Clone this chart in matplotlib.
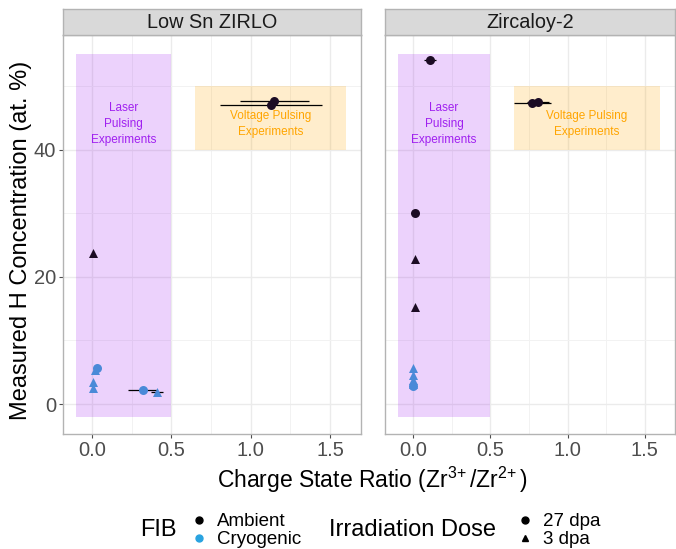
import matplotlib
matplotlib.use("Agg")
from matplotlib import pyplot as plt
from matplotlib.patches import Rectangle
from matplotlib.lines import Line2D

plt.rcParams['font.family'] = ['Liberation Sans', 'DejaVu Sans']
plt.rcParams['mathtext.fontset'] = 'custom'
plt.rcParams['mathtext.rm'] = 'Liberation Sans'
plt.rcParams['mathtext.it'] = 'Liberation Sans:italic'

# data
panels = ["Low Sn ZIRLO", "Zircaloy-2"]

zirlo_x = [1.13, 1.15, 0.01, 0.03, 0.02, 0.01, 0.01, 0.32, 0.41]
zirlo_y = [47.0, 47.6, 23.7, 5.7, 5.3, 3.5, 2.5, 2.2, 1.9]
zirlo_xerr = [0.32, 0.22, 0.0, 0.0, 0.0, 0.0, 0.0, 0.09, 0.04]
zirlo_fib = ["Ambient", "Ambient", "Ambient", "Cryogenic", "Cryogenic",
             "Cryogenic", "Cryogenic", "Cryogenic", "Cryogenic"]
zirlo_dose = ["27 dpa", "27 dpa", "3 dpa", "27 dpa", "3 dpa",
              "3 dpa", "3 dpa", "27 dpa", "3 dpa"]

zry_x = [0.11, 0.77, 0.81, 0.01, 0.01, 0.01, 0.0, 0.0, 0.0, 0.0, 0.0]
zry_y = [54.0, 47.3, 47.5, 30.0, 22.8, 15.3, 5.6, 4.6, 3.8, 3.1, 2.8]
zry_xerr = [0.04, 0.12, 0.07, 0.0, 0.0, 0.0, 0.0, 0.0, 0.0, 0.0, 0.0]
zry_fib = ["Ambient"] * 6 + ["Cryogenic"] * 5
zry_dose = ["27 dpa", "27 dpa", "27 dpa", "27 dpa", "3 dpa", "3 dpa",
            "3 dpa", "3 dpa", "3 dpa", "3 dpa", "27 dpa"]

laser_box = (-0.1, 0.5, -2, 55)
voltage_box = (0.65, 1.6, 40, 50)

fib_colors = {"Ambient": "#1c0c24", "Cryogenic": "#4a8ad8"}
legend_colors = {"Ambient": "black", "Cryogenic": "#29a3e0"}
dose_markers = {"27 dpa": "o", "3 dpa": "^"}

W, H = 676, 549
fig = plt.figure(figsize=(W / 100, H / 100), dpi=100)

panel_px = [(63, 361), (385, 675)]
top_px, bot_px, strip_top = 35, 434, 9

data = [(zirlo_x, zirlo_y, zirlo_xerr, zirlo_fib, zirlo_dose),
        (zry_x, zry_y, zry_xerr, zry_fib, zry_dose)]

for i, (name, (l, r)) in enumerate(zip(panels, panel_px)):
    ax = fig.add_axes([l / W, 1 - bot_px / H, (r - l) / W, (bot_px - top_px) / H])
    xs, ys, xerr, fib, dose = data[i]

    ax.add_patch(Rectangle((laser_box[0], laser_box[2]), laser_box[1] - laser_box[0],
                           laser_box[3] - laser_box[2], color="#a020f0", alpha=0.2,
                           lw=0, zorder=1))
    ax.add_patch(Rectangle((voltage_box[0], voltage_box[2]), voltage_box[1] - voltage_box[0],
                           voltage_box[3] - voltage_box[2], color="#ffa500", alpha=0.2,
                           lw=0, zorder=1))
    ax.text(0.2, 44, "Laser\nPulsing\nExperiments", color="#a020f0", fontsize=8.5,
            ha="center", va="center", linespacing=1.45, zorder=2)
    ax.text(1.125, 44, "Voltage Pulsing\nExperiments", color="#ffa500", fontsize=8.5,
            ha="center", va="center", linespacing=1.45, zorder=2)

    for x, y, e in zip(xs, ys, xerr):
        if e > 0:
            ax.errorbar(x, y, xerr=e, fmt="none", ecolor="black", elinewidth=0.9,
                        capsize=0, zorder=3)
    for x, y, f, d in zip(xs, ys, fib, dose):
        ax.scatter(x, y, s=42, color=fib_colors[f], marker=dose_markers[d],
                   linewidths=0, zorder=4)

    ax.set_xlim(-0.182, 1.695)
    ax.set_ylim(-4.7, 58)
    ax.set_xticks([0, 0.5, 1.0, 1.5])
    ax.set_xticklabels(["0.0", "0.5", "1.0", "1.5"])
    ax.set_xticks([0.25, 0.75, 1.25], minor=True)
    ax.set_yticks([0, 20, 40])
    ax.set_yticks([10, 30, 50], minor=True)
    ax.grid(True, which="major", color="#ebebeb", lw=1.0, zorder=0)
    ax.grid(True, which="minor", color="#f2f2f2", lw=0.7, zorder=0)
    ax.set_axisbelow(True)
    ax.tick_params(which="major", length=3, color="#4d4d4d", labelsize=14.5,
                   labelcolor="#4d4d4d", pad=2)
    ax.tick_params(which="minor", length=0)
    if i == 1:
        ax.tick_params(axis="y", which="both", left=False, labelleft=False)
    for sp in ax.spines.values():
        sp.set_color("#b3b3b3")
        sp.set_linewidth(1.0)

    sax = fig.add_axes([l / W, 1 - top_px / H, (r - l) / W, (top_px - strip_top) / H])
    sax.set_facecolor("#d9d9d9")
    sax.set_xticks([])
    sax.set_yticks([])
    for sp in sax.spines.values():
        sp.set_color("#b3b3b3")
        sp.set_linewidth(1.0)
    sax.text(0.5, 0.5, name, ha="center", va="center", fontsize=14.3, color="#1a1a1a",
             transform=sax.transAxes)

fig.text(21 / W, 1 - 240 / H, "Measured H Concentration (at. %)", rotation=90,
         ha="center", va="center", fontsize=17)
fig.text(372 / W, 1 - 480 / H,
         r"Charge State Ratio (Zr$^{\mathregular{3\!+}}$/Zr$^{\mathregular{2\!+}}$)",
         ha="center", va="center", fontsize=16.5)

# legends, laid out by hand like the ggplot guide boxes
fig.text(140 / W, 1 - 530 / H, "FIB", fontsize=17, ha="left", va="center")
for k, ypx in zip(["Ambient", "Cryogenic"], [520, 538]):
    fig.add_artist(Line2D([199 / W], [1 - ypx / H], ls="none", marker="o", ms=5,
                          color=legend_colors[k], transform=fig.transFigure))
    fig.text(217 / W, 1 - (ypx + 1) / H, k, fontsize=13.5, ha="left", va="center")

fig.text(329 / W, 1 - 530 / H, "Irradiation Dose", fontsize=17, ha="left", va="center")
for k, ypx in zip(["27 dpa", "3 dpa"], [520, 538]):
    fig.add_artist(Line2D([525 / W], [1 - ypx / H], ls="none", marker=dose_markers[k],
                          ms=5, color="black", transform=fig.transFigure))
    fig.text(543 / W, 1 - (ypx + 1) / H, k, fontsize=13.5, ha="left", va="center")

fig.savefig("out.png", dpi=100)
